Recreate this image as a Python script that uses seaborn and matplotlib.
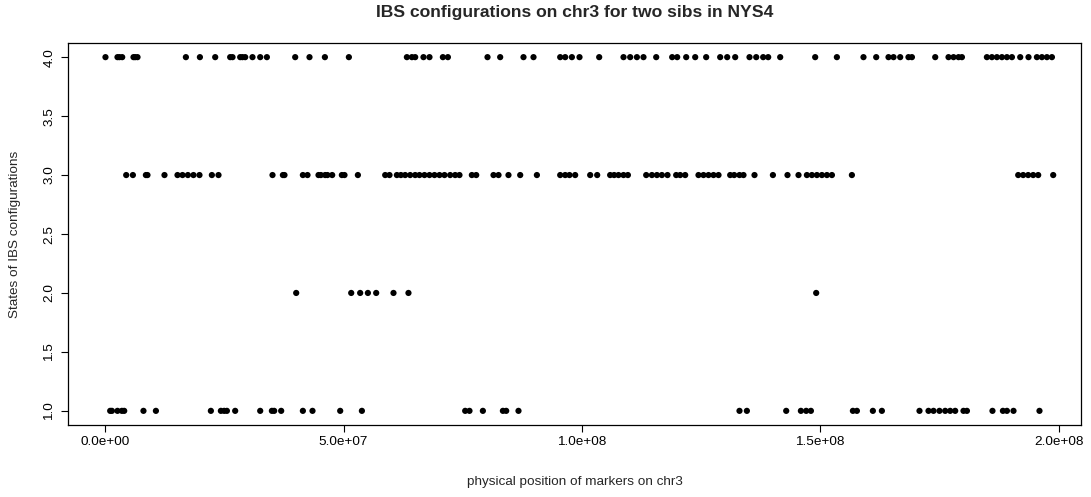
import numpy as np
import pandas as pd
import matplotlib
matplotlib.use("Agg")
import matplotlib.pyplot as plt
import seaborn as sns

# Marker positions (Mb) on chr3 grouped by IBS state
pos_state4 = [0.06, 2.58, 3.0, 3.57, 5.94, 6.29, 6.78, 16.93, 19.87, 23.08,
              26.22, 26.71, 28.32, 28.80, 29.37, 30.90, 32.52, 33.92, 39.86,
              42.86, 46.09, 51.12, 63.29, 64.34, 65.03, 66.77, 68.03, 70.84,
              71.89, 80.20, 82.86, 87.75, 89.85, 95.45, 96.50, 97.90, 99.50,
              103.63, 108.73, 110.13, 111.54, 112.92, 115.59, 118.94, 119.99,
              121.88, 123.77, 126.07, 129.01, 130.48, 132.16, 135.16, 136.57,
              138.03, 139.08, 141.60, 148.94, 153.49, 159.07, 161.74, 164.32,
              165.37, 166.77, 168.51, 169.23, 174.12, 176.91, 177.96, 179.01,
              179.72, 184.96, 186.01, 187.06, 188.11, 189.16, 190.21, 191.95,
              193.69, 195.45, 196.50, 197.55, 198.60]
pos_state3 = [4.41, 5.81, 8.54, 8.87, 12.44, 15.17, 16.22, 17.35, 18.52, 19.78,
              22.38, 23.77, 35.10, 37.28, 37.61, 41.47, 42.44, 44.75, 45.25,
              46.15, 46.63, 47.62, 49.65, 50.20, 53.01, 58.74, 59.64, 61.19,
              62.03, 62.93, 63.98, 65.03, 65.93, 66.98, 68.03, 69.08, 70.13,
              71.18, 72.37, 73.42, 74.32, 76.92, 77.83, 81.46, 82.51, 84.60,
              87.06, 90.56, 95.45, 96.50, 97.40, 98.59, 101.74, 103.21, 105.93,
              106.77, 107.68, 108.73, 109.65, 113.49, 114.69, 115.74, 116.78,
              117.96, 119.78, 120.62, 121.67, 124.46, 125.51, 126.56, 127.61,
              128.66, 131.11, 131.95, 133.06, 133.90, 136.21, 140.07, 143.13,
              145.44, 147.20, 148.25, 149.30, 150.35, 151.40, 152.45, 156.64,
              191.53, 192.57, 193.62, 194.67, 195.72, 198.87]
pos_state2 = [40.07, 51.61, 53.49, 55.11, 56.85, 60.48, 63.62, 149.15]
pos_state1 = [1.05, 1.41, 2.58, 3.50, 3.99, 8.03, 10.64, 22.17, 24.27, 24.96,
              25.53, 27.27, 32.52, 34.97, 35.45, 36.92, 41.47, 43.49, 49.30,
              53.85, 75.52, 76.42, 79.23, 83.43, 84.12, 86.70, 133.06, 134.61,
              142.86, 145.94, 147.05, 148.04, 156.85, 157.69, 161.04, 162.93,
              170.82, 172.71, 173.76, 175.01, 176.21, 177.26, 178.31, 180.05,
              180.77, 186.13, 188.32, 189.16, 190.54, 195.99]

x_ticks = [0, 5e7, 1e8, 1.5e8, 2e8]
x_tick_labels = ["0.0e+00", "5.0e+07", "1.0e+08", "1.5e+08", "2.0e+08"]
y_ticks = [1.0, 1.5, 2.0, 2.5, 3.0, 3.5, 4.0]
y_tick_labels = ["1.0", "1.5", "2.0", "2.5", "3.0", "3.5", "4.0"]

frames = []
for state, pos in [(4, pos_state4), (3, pos_state3), (2, pos_state2), (1, pos_state1)]:
    frames.append(pd.DataFrame({"position": np.array(pos) * 1e6, "state": state}))
df = pd.concat(frames, ignore_index=True)

sns.set_style("ticks")
plt.rcParams["font.family"] = ["Liberation Sans", "DejaVu Sans"]

fig = plt.figure(figsize=(10.91, 4.97), dpi=100)
ax = fig.add_axes([68 / 1091, 1 - 425 / 497, (1081 - 68) / 1091, (425 - 43) / 497])

sns.scatterplot(data=df, x="position", y="state", ax=ax, color="black",
                s=20, edgecolor="none", linewidth=0, legend=False)

ax.set_xlim(-7.8e6, 204.7e6)
ax.set_ylim(0.88, 4.12)
ax.set_xticks(x_ticks)
ax.set_xticklabels(x_tick_labels, fontsize=9.7)
ax.set_yticks(y_ticks)
ax.set_yticklabels(y_tick_labels, fontsize=9.7, rotation=90, va="center")
ax.tick_params(direction="out", length=5, width=0.8, colors="black")
ax.tick_params(axis="x", pad=3)
ax.tick_params(axis="y", pad=4)
for sp in ax.spines.values():
    sp.set_visible(True)
    sp.set_color("black")
    sp.set_linewidth(0.9)
ax.set_xlabel("")
ax.set_ylabel("")

fig.text((68 + 1081) / 2 / 1091, 1 - 12 / 497,
         "IBS configurations on chr3 for two sibs in NYS4",
         ha="center", va="center", fontsize=12.6, fontweight="bold")
fig.text((68 + 1081) / 2 / 1091, 1 - 482 / 497,
         "physical position of markers on chr3",
         ha="center", va="center", fontsize=9.7)
fig.text(15 / 1091, 1 - 234 / 497, "States of IBS configurations",
         ha="center", va="center", rotation=90, fontsize=9.7)

fig.savefig("out.png", dpi=100)
